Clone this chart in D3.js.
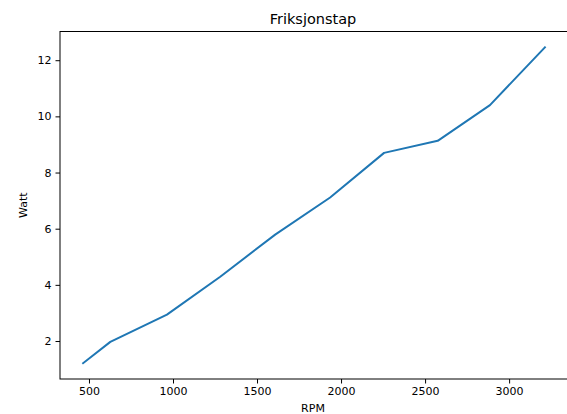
<!DOCTYPE html>
<html>
<head>
<meta charset="utf-8">
<script src="https://cdn.jsdelivr.net/npm/d3@7"></script>
<style>
  html, body { margin: 0; padding: 0; background: #fff; }
  svg { display: block; font-family: "DejaVu Sans", sans-serif; }
</style>
</head>
<body>
<svg id="chart" width="567" height="414"></svg>
<script>
const rpm = [465, 627, 964, 1281, 1608, 1935, 2256, 2575, 2886, 3213];
const watt = [1.21, 1.97, 2.94, 4.29, 5.79, 7.11, 8.70, 9.13, 10.40, 12.46];
const xTicks = [500, 1000, 1500, 2000, 2500, 3000];
const yTicks = [2, 4, 6, 8, 10, 12];
const chartTitle = "Friksjonstap";
const xLabel = "RPM";
const yLabel = "Watt";

const svg = d3.select("#chart");
const mLeft = 60, mRight = 568, mTop = 31.5, mBottom = 379;

const xmin = d3.min(rpm), xmax = d3.max(rpm);
const ymin = d3.min(watt), ymax = d3.max(watt);
const xp = (xmax - xmin) * 0.05, yp = (ymax - ymin) * 0.05;

const x = d3.scaleLinear().domain([xmin - xp, xmax + xp]).range([mLeft, mRight]);
const y = d3.scaleLinear().domain([ymin - yp, ymax + yp]).range([mBottom, mTop]);

const clipId = "plotclip";
svg.append("defs").append("clipPath").attr("id", clipId)
  .append("rect").attr("x", mLeft).attr("y", mTop).attr("width", mRight - mLeft).attr("height", mBottom - mTop);

svg.append("path")
  .datum(rpm.map((r, i) => [r, watt[i]]))
  .attr("clip-path", `url(#${clipId})`)
  .attr("fill", "none")
  .attr("stroke", "#1f77b4")
  .attr("stroke-width", 2)
  .attr("stroke-linejoin", "round")
  .attr("stroke-linecap", "square")
  .attr("d", d3.line().x(d => x(d[0])).y(d => y(d[1])));

const xAxis = svg.append("g").attr("transform", `translate(0,${mBottom})`)
  .call(d3.axisBottom(x).tickValues(xTicks).tickFormat(d3.format("d")).tickSize(4.5).tickPadding(4));
const yAxis = svg.append("g").attr("transform", `translate(${mLeft},0)`)
  .call(d3.axisLeft(y).tickValues(yTicks).tickFormat(d3.format("d")).tickSize(4.5).tickPadding(4));
[xAxis, yAxis].forEach(g => {
  g.select(".domain").remove();
  g.selectAll("text").attr("font-size", 11).attr("fill", "#000").attr("font-family", "DejaVu Sans");
  g.selectAll("line").attr("stroke", "#000").attr("stroke-width", 1);
});

svg.append("rect")
  .attr("x", mLeft).attr("y", mTop).attr("width", mRight - mLeft).attr("height", mBottom - mTop)
  .attr("fill", "none").attr("stroke", "#000").attr("stroke-width", 1);

svg.append("text").attr("x", 313).attr("y", 24)
  .attr("text-anchor", "middle").attr("font-size", 14.5).attr("fill", "#000").text(chartTitle);
svg.append("text").attr("x", 313).attr("y", 412)
  .attr("text-anchor", "middle").attr("font-size", 11).attr("fill", "#000").text(xLabel);
svg.append("text").attr("transform", `translate(27,${(mTop + mBottom) / 2}) rotate(-90)`)
  .attr("text-anchor", "middle").attr("font-size", 11).attr("fill", "#000").text(yLabel);
</script>
</body>
</html>
